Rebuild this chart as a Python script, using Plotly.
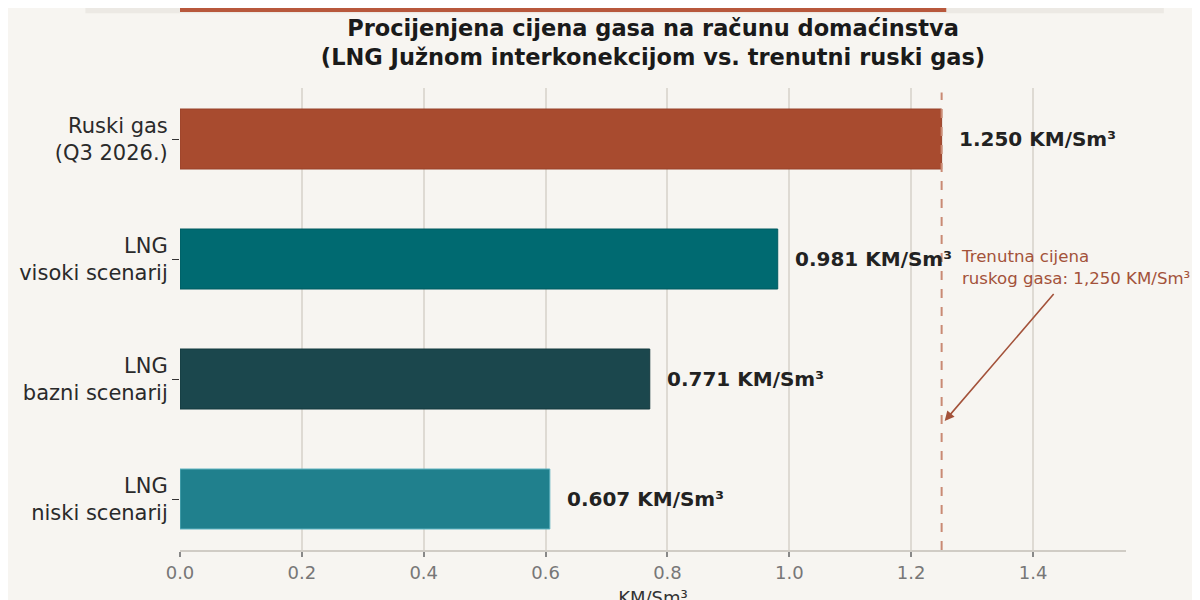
import plotly.graph_objects as go

# data
categories = ["Ruski gas<br>(Q3 2026.)", "LNG<br>visoki scenarij",
              "LNG<br>bazni scenarij", "LNG<br>niski scenarij"]
prices = [1.250, 0.981, 0.771, 0.607]
bar_colors = ["#A84B2F", "#006A71", "#1B474D", "#20808D"]
edge_colors = ["#98432A", "#005A60", "#143a3f", "#5FB3C0"]
russian_price = 1.250
x_ticks = [0.0, 0.2, 0.4, 0.6, 0.8, 1.0, 1.2, 1.4]

ypos = list(range(len(categories)))
bg = "#F7F5F1"
accent = "#A3523A"

fig = go.Figure()
fig.add_trace(go.Bar(
    x=prices, y=ypos, orientation="h", width=0.5,
    marker=dict(color=bar_colors, line=dict(color=edge_colors, width=1)),
    hoverinfo="skip", showlegend=False,
))

# value labels next to the bars
for p, y in zip(prices, ypos):
    fig.add_annotation(
        x=p + 0.025, y=y, text="<b>%.3f KM/Sm³</b>" % p,
        xanchor="left", yanchor="middle", showarrow=False,
        font=dict(family="DejaVu Sans", size=20, color="#222222"),
    )

# current russian price line
fig.add_shape(type="line", x0=russian_price, x1=russian_price,
              y0=0, y1=0.99, xref="x", yref="paper",
              line=dict(color="#C98A74", width=2, dash="dash"))

fig.add_annotation(
    x=1.255, y=2.35, ax=1.436, ay=1.28, axref="x", ayref="y",
    xref="x", yref="y", text="", showarrow=True,
    arrowhead=2, arrowsize=1.2, arrowwidth=1.6, arrowcolor=accent,
)
fig.add_annotation(
    x=1.278, y=1.07, text="Trenutna cijena<br>ruskog gasa: 1,250 KM/Sm³",
    xanchor="left", yanchor="middle", align="left", showarrow=False,
    font=dict(family="DejaVu Sans", size=16.6, color=accent),
)

# cut-off strip at the very top of the source image
fig.add_shape(type="rect", xref="paper", yref="paper",
              x0=-0.1, x1=1.04, y0=1.162, y1=1.1732,
              fillcolor="#ECE9E4", line_width=0, layer="below")
fig.add_shape(type="rect", xref="paper", yref="paper",
              x0=0.0, x1=0.81, y0=1.1645, y1=1.1732,
              fillcolor="#B8583C", line_width=0)

fig.update_layout(
    width=1200, height=600,
    paper_bgcolor=bg, plot_bgcolor=bg,
    margin=dict(l=172, r=82, t=80, b=58),
    font=dict(family="DejaVu Sans", color="#333333"),
    title=dict(
        text="<b>Procijenjena cijena gasa na računu domaćinstva<br>"
             "(LNG Južnom interkonekcijom vs. trenutni ruski gas)</b>",
        x=0.5375, xanchor="center", y=0.953, yanchor="top",
        font=dict(family="DejaVu Sans", size=22.5, color="#1a1a1a"),
    ),
)
fig.update_xaxes(
    range=[0, 1.5526], tickvals=x_ticks,
    ticktext=["%.1f" % t for t in x_ticks],
    showgrid=True, gridcolor="#DEDAD3", gridwidth=1.5,
    zeroline=False, showline=True, linecolor="#D0CCC5", linewidth=2,
    ticks="outside", ticklen=5, tickcolor="#888888", tickwidth=1.5,
    tickfont=dict(size=18, color="#777777"),
    automargin=False,
    title=dict(text="KM/Sm³", standoff=12,
               font=dict(size=18, color="#333333")),
)
fig.update_yaxes(
    range=[3.425, -0.425], tickvals=ypos, ticktext=categories,
    showgrid=False, zeroline=False, showline=False,
    ticks="outside", ticklen=7, tickcolor="#333333", tickwidth=1.2,
    tickfont=dict(size=21, color="#2a2a2a"),
    automargin=False,
)

fig.write_html("out.html")
